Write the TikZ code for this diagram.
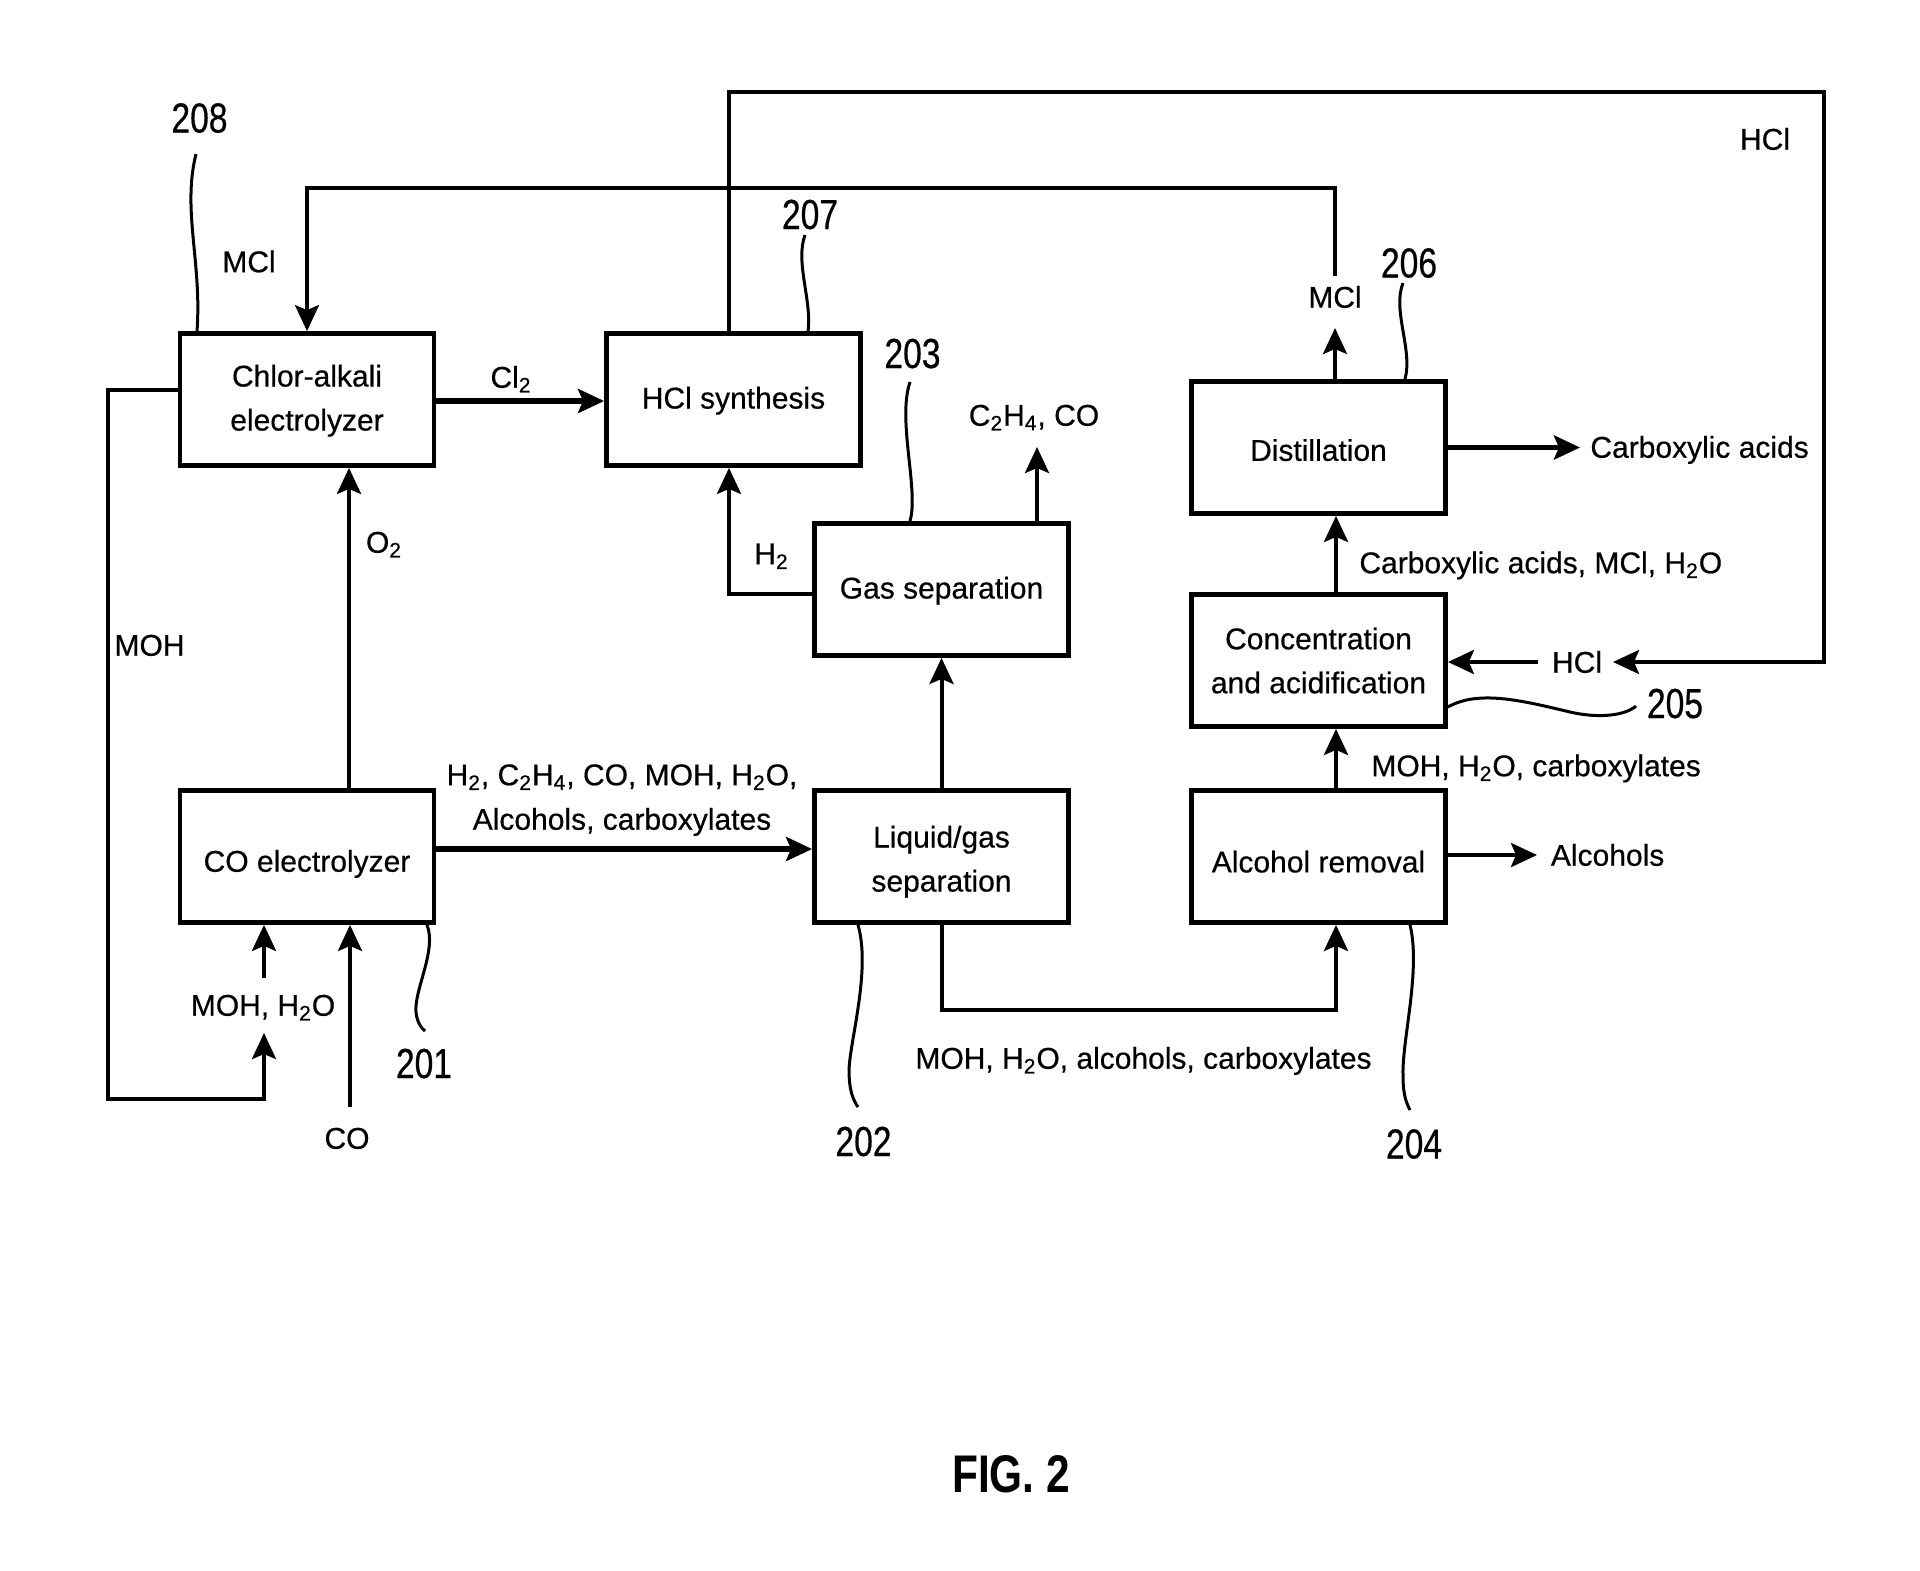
\documentclass[tikz,border=0pt]{standalone}
\usepackage{fontspec}
\setmainfont[FakeBold=0.5]{Liberation Sans}
\newfontfamily\numfont[FakeStretch=0.8,FakeBold=0.5]{Liberation Sans}
\newfontfamily\figfont[FakeStretch=0.8]{Liberation Sans Bold}
\usetikzlibrary{arrows.meta}
\newcommand\sbs[1]{\textsubscript{#1}}
\begin{document}
\begin{tikzpicture}[x=0.5pt,y=-0.5pt,
  box/.style={draw,line width=2.4pt,minimum width=127pt,minimum height=66pt,inner sep=0pt,align=center,font=\fontsize{15}{22}\selectfont},
  lbl/.style={inner sep=0pt,font=\fontsize{15}{18}\selectfont,text height=10.7pt,text depth=0pt},
  num/.style={inner sep=0pt,font=\numfont\fontsize{21}{24}\selectfont,text height=15pt,text depth=0pt},
  conn/.style={line width=2pt},
  thinconn/.style={line width=1.8pt},
  thickconn/.style={line width=2.6pt},
  tip/.style={-{Stealth[length=13pt,width=12pt,inset=2.5pt]}},
  leader/.style={line width=1.5pt}
]
\fill[white] (0,0) rectangle (1920,1570);
\useasboundingbox (0,0) rectangle (1920,1570);

% boxes
\node[box,text height=33pt,text depth=2pt] (CA) at (307,399.5) {Chlor-alkali\\electrolyzer};
\node[box,text height=9pt,text depth=0pt] (HS) at (733.5,399.5) {HCl synthesis};
\node[box,text height=9pt,text depth=0pt] (GS) at (941.5,589.5) {Gas separation};
\node[box,text height=13.3pt,text depth=0pt] (DI) at (1318.5,447.5) {Distillation};
\node[box] (CC) at (1318.5,660.5) {Concentration\\and acidification};
\node[box,text height=15.2pt,text depth=0pt] (CE) at (307,856.5) {CO electrolyzer};
\node[box,text height=35pt,text depth=0pt] (LG) at (941.5,856.5) {Liquid/gas\\separation};
\node[box,text height=15.9pt,text depth=0pt] (AR) at (1318.5,856.5) {Alcohol removal};

% free ends
\coordinate (mclTip) at (1335,328);
\coordinate (mclTop) at (1335,276);
\coordinate (hclTip) at (1613,662);
\coordinate (hclStart) at (1538,662);
\coordinate (mohTip) at (264,1033);
\coordinate (mohStart) at (264,978);
\coordinate (coStart) at (350,1107);
\coordinate (c2Tip) at (1037,447);
\coordinate (alcTip) at (1537,855);
\coordinate (caTip) at (1580,447.5);

% MCl recycle
\draw[thinconn,tip] (DI.north -| mclTip) -- (mclTip);
\draw[thinconn,tip] (mclTop) -- (1335,188) -| (CA.north);
% HCl recycle
\draw[thinconn,tip] (HS.north -| 729,0) -- (729,92) -- (1824,92) -- (1824,662) -- (hclTip);
\draw[conn,tip] (hclStart) -- (CC.east |- hclStart);
% Cl2
\draw[thickconn,tip] (CA.east |- 0,401) -- (HS.west |- 0,401);
% O2
\draw[conn,tip] (349,0 |- CE.north) -- (349,0 |- CA.south);
% MOH loop
\draw[conn,tip] (CA.west |- 0,390) -- (108,390) -- (108,1099) -- (264,1099) -- (mohTip);
\draw[conn,tip] (mohStart) -- (CE.south -| mohStart);
% CO feed
\draw[conn,tip] (coStart) -- (CE.south -| coStart);
% CO electrolyzer -> liquid/gas
\draw[thickconn,tip] (CE.east |- 0,849) -- (LG.west |- 0,849);
% liquid/gas -> gas separation
\draw[conn,tip] (LG.north) -- (GS.south);
% H2 to HCl synthesis
\draw[conn,tip] (GS.west |- 0,594) -| (HS.south -| 729,0);
% C2H4, CO out
\draw[conn,tip] (GS.north -| c2Tip) -- (c2Tip);
% liquid/gas -> alcohol removal
\draw[conn,tip] (LG.south) -- (941.5,1010) -| (AR.south -| 1336,0);
% alcohol removal -> concentration
\draw[conn,tip] (AR.north -| 1336,0) -- (CC.south -| 1336,0);
% concentration -> distillation
\draw[conn,tip] (CC.north -| 1336,0) -- (DI.south -| 1336,0);
% alcohols out
\draw[conn,tip] (AR.east |- alcTip) -- (alcTip);
% carboxylic acids out
\draw[thickconn,tip] (DI.east) -- (caTip);

% labels
\node[lbl] (l1) at (249,261.5) {MCl};
\node[lbl] (l2) at (1335,297) {MCl};
\node[lbl] (l3) at (1765,139) {HCl};
\node[lbl] (l4) at (1577,662) {HCl};
\node[lbl] (l5) at (511,377) {Cl\sbs{2}};
\node[lbl] (l6) at (384,542) {O\sbs{2}};
\node[lbl] (l7) at (149.5,645) {MOH};
\node[lbl] (l8) at (263,1005) {MOH, H\sbs{2}O};
\node[lbl] (l9) at (347,1138) {CO};
\node[lbl] (l10) at (622,774.5) {H\sbs{2}, C\sbs{2}H\sbs{4}, CO, MOH, H\sbs{2}O,};
\node[lbl] (l11) at (622,819) {Alcohols, carboxylates};
\node[lbl] (l12) at (771.5,553.5) {H\sbs{2}};
\node[lbl] (l13) at (1034,415) {C\sbs{2}H\sbs{4}, CO};
\node[lbl] (l14) at (1143.5,1058) {MOH, H\sbs{2}O, alcohols, carboxylates};
\node[lbl,anchor=west] (l15) at (1371,765.5) {MOH, H\sbs{2}O, carboxylates};
\node[lbl,anchor=west] (l16) at (1359,562.5) {Carboxylic acids, MCl, H\sbs{2}O};
\node[lbl,anchor=west] (l17) at (1550.5,855) {Alcohols};
\node[lbl,anchor=west] (l18) at (1590,447) {Carboxylic acids};

% reference numerals
\node[num] (n208) at (199.5,117.5) {208};
\node[num] (n207) at (810,214) {207};
\node[num] (n206) at (1409,262.5) {206};
\node[num] (n203) at (912.5,353) {203};
\node[num] (n205) at (1675,703) {205};
\node[num] (n201) at (424,1063) {201};
\node[num] (n202) at (863.5,1141) {202};
\node[num] (n204) at (1414,1143.5) {204};

% leader lines
\draw[leader] (196,154) .. controls (182,210) and (202,262) .. (197,0 |- CA.north);
\draw[leader] (805,235) .. controls (795,262) and (812,300) .. (808,0 |- HS.north);
\draw[leader] (1403,283) .. controls (1392,310) and (1413,350) .. (1405,0 |- DI.north);
\draw[leader] (910,382) .. controls (897,420) and (919,490) .. (910,0 |- GS.north);
\draw[leader] (CC.east |- 0,707) .. controls (1478,690) and (1520,700) .. (1570,712) .. controls (1600,719) and (1626,715) .. (1636,706);
\draw[leader] (427,0 |- CE.south) .. controls (437,950) and (414,990) .. (416,1012) .. controls (417,1022) and (421,1028) .. (425,1031);
\draw[leader] (858,0 |- LG.south) .. controls (871,970) and (850,1040) .. (849,1070) .. controls (849,1090) and (853,1100) .. (858,1107);
\draw[leader] (1410,0 |- AR.south) .. controls (1421,970) and (1402,1040) .. (1403,1075) .. controls (1403,1095) and (1406,1102) .. (1410,1110);

\node[inner sep=0pt,font=\figfont\fontsize{26.5}{30}\selectfont] (fig) at (1011,1474) {FIG. 2};
\end{tikzpicture}
\end{document}
